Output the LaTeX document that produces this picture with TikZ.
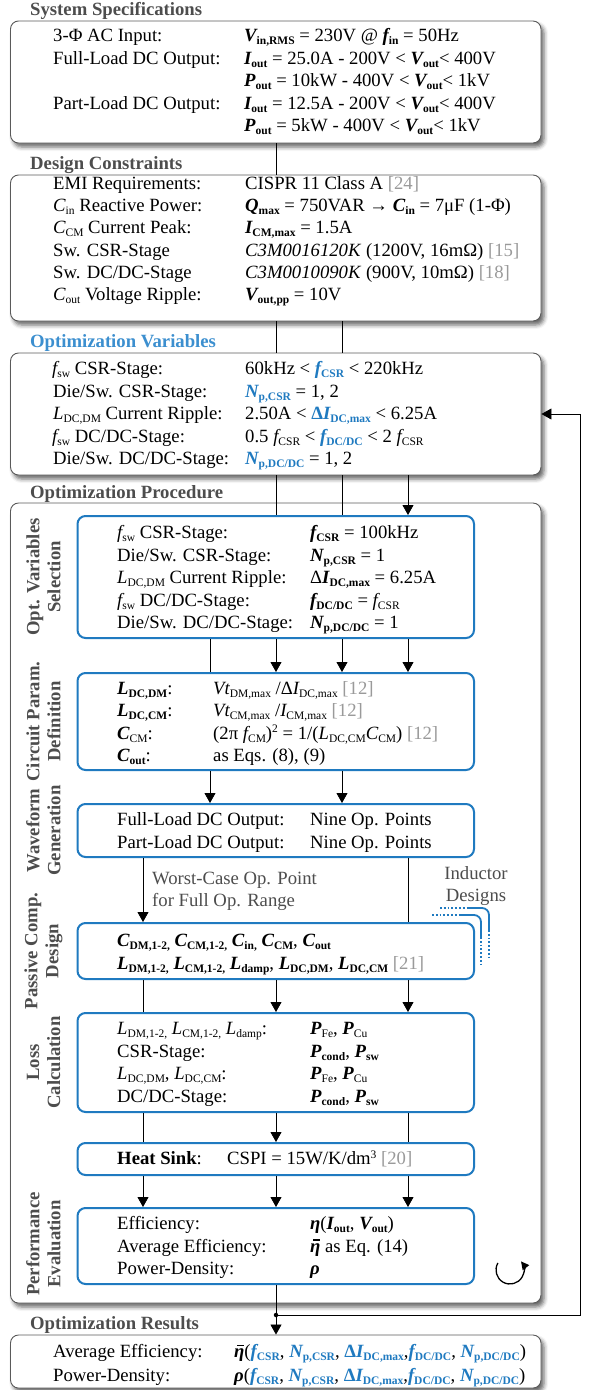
\documentclass[tikz,border=0pt]{standalone}
\usepackage{fontspec}
\setmainfont{Liberation Serif}
\usetikzlibrary{arrows.meta,shadows.blur}

\definecolor{bluebox}{HTML}{1F7AC0}
\definecolor{bluetxt}{HTML}{1F7AC0}
\definecolor{bluettl}{HTML}{3C8FCF}
\definecolor{titlegray}{HTML}{4D4D4D}
\definecolor{refgray}{HTML}{9A9A9A}
\definecolor{edgegray}{HTML}{5A5A5A}

\newcommand{\lo}[1]{\raisebox{-3pt}{\fontsize{11.5}{12}\selectfont #1}}
\newcommand{\hi}[1]{\raisebox{6.5pt}{\fontsize{11.5}{12}\selectfont #1}}
\newcommand{\bvar}[2]{{\bfseries\itshape #1}\lo{\bfseries\upshape #2}}
\newcommand{\bvarr}[2]{{\bfseries\itshape #1}\lo{\mdseries\upshape #2}}
\newcommand{\ivar}[2]{{\itshape #1}\lo{\upshape #2}}
\newcommand{\bl}[1]{\textcolor{bluetxt}{#1}}
\newcommand{\rf}[1]{\textcolor{refgray}{#1}}
\newcommand{\myeta}{{\bfseries\itshape η}}
\newcommand{\myetabar}{\makebox[0pt][l]{\hspace{0.17em}\rule[0.6em]{0.34em}{0.07em}}\myeta}
\newcommand{\myrho}{{\bfseries\itshape ρ}}

\tikzset{
  outer/.style={draw=edgegray, line width=0.9pt, rounded corners=8pt, fill=white,
    blur shadow={shadow xshift=3pt, shadow yshift=-4pt, shadow blur radius=4pt, shadow opacity=60},
    minimum width=530.5pt, inner sep=0pt},
  inner/.style={draw=bluebox, line width=2pt, rounded corners=8pt, fill=white,
    minimum width=396.5pt, inner sep=0pt},
  txt/.style={anchor=base west, inner sep=0pt, font=\fontsize{18.7}{22.5}\selectfont},
  ttl/.style={anchor=base west, inner sep=0pt, font=\fontsize{18.7}{22.5}\selectfont\bfseries, text=titlegray},
  vlab/.style={rotate=90, align=center, inner sep=0pt, font=\fontsize{18.7}{21}\selectfont\bfseries, text=titlegray},
  note/.style={inner sep=0pt, font=\fontsize{18.7}{22}\selectfont, text=titlegray},
  conn/.style={line width=0.8pt},
  arr/.style={line width=0.8pt, -{Triangle[length=10pt,width=11pt]}},
  dotln/.style={draw=bluebox, line width=1.8pt, dotted},
  solln/.style={draw=bluebox, line width=1.8pt, rounded corners=7pt},
}

\begin{document}
\begin{tikzpicture}[x=1pt,y=-1pt]
\useasboundingbox (0,0) rectangle (591,1390);

% ---------- outer boxes ----------
\node[outer, minimum height=122pt] (sys) at (275.75,82) {};
\node[outer, minimum height=146pt] (con) at (275.75,248) {};
\node[outer, minimum height=122pt] (var) at (275.75,414) {};
\node[outer, minimum height=800pt] (proc) at (275.75,903) {};
\node[outer, minimum height=53pt] (res) at (275.75,1361.5) {};

% ---------- titles ----------
\node[ttl] (t1) at (30,15.5) {System Specifications};
\node[ttl] (t2) at (30,169) {Design Constraints};
\node[ttl, text=bluettl] (t3) at (30,347) {Optimization Variables};
\node[ttl] (t4) at (30,498) {Optimization Procedure};
\node[ttl] (t5) at (30,1329) {Optimization Results};

% ---------- column coordinates ----------
\coordinate (k1) at (143,0);
\coordinate (k2) at (210,0);
\coordinate (k3) at (276,0);
\coordinate (k4) at (342,0);
\coordinate (k5) at (408,0);

% ---------- connectors between outer boxes ----------
\draw[conn] (sys.south -| k3) -- (con.north -| k3);
\draw[conn] (con.south -| k3) -- (var.north -| k3);
\draw[conn] (con.south -| k4) -- (var.north -| k4);

% ---------- inner boxes ----------
\node[inner, minimum height=122pt] (sel) at (275.75,577) {};
\node[inner, minimum height=97pt] (cpd) at (275.75,721.5) {};
\node[inner, minimum height=53pt] (wfg) at (275.75,830.5) {};
\node[inner, minimum height=56pt] (pcd) at (275.75,951) {};
\node[inner, minimum height=99pt] (loss) at (275.75,1062.5) {};
\node[inner, minimum height=32pt] (hs) at (275.75,1159) {};
\node[inner, minimum height=76pt] (perf) at (275.75,1246) {};

% ---------- connectors into / between inner boxes ----------
\draw[conn] (var.south -| k3) -- (sel.north -| k3);
\draw[conn] (var.south -| k4) -- (sel.north -| k4);
\draw[arr]  (var.south -| k5) -- (sel.north -| k5);

\draw[conn] (sel.south -| k2) -- (cpd.north -| k2);
\draw[arr]  (sel.south -| k3) -- (cpd.north -| k3);
\draw[arr]  (sel.south -| k4) -- (cpd.north -| k4);
\draw[arr]  (sel.south -| k5) -- (cpd.north -| k5);

\draw[arr]  (cpd.south -| k2) -- (wfg.north -| k2);
\draw[arr]  (cpd.south -| k4) -- (wfg.north -| k4);

\draw[arr]  (wfg.south -| k1) -- (pcd.north -| k1);
\draw[conn] (wfg.south -| k5) -- (pcd.north -| k5);

\draw[conn] (pcd.south -| k1) -- (loss.north -| k1);
\draw[arr]  (pcd.south -| k3) -- (loss.north -| k3);
\draw[arr]  (pcd.south -| k5) -- (loss.north -| k5);

\draw[conn] (loss.south -| k1) -- (hs.north -| k1);
\draw[arr]  (loss.south -| k3) -- (hs.north -| k3);
\draw[conn] (loss.south -| k5) -- (hs.north -| k5);

\draw[arr]  (hs.south -| k1) -- (perf.north -| k1);
\draw[arr]  (hs.south -| k3) -- (perf.north -| k3);
\draw[arr]  (hs.south -| k5) -- (perf.north -| k5);

\draw[arr]  (perf.south -| k3) -- (res.north -| k3);

% feedback loop
\node[circle, fill=black, inner sep=0pt, minimum size=4.5pt] (jn) at (276,1315) {};
\coordinate (fbr) at (580,1315);
\draw[arr] (jn.center) -- (fbr) |- (var.east);

% ---------- vertical stage labels ----------
\node[vlab] (vA) at (43.5,577) {Opt. Variables\\Selection};
\node[vlab] (vB) at (43.5,721.5) {Circuit Param.\\Definition};
\node[vlab] (vC) at (43.5,830.5) {Waveform\\Generation};
\node[vlab] (vD) at (43.5,951) {Passive Comp.\\Design};
\node[vlab] (vE) at (43.5,1062.5) {Loss\\Calculation};
\node[vlab] (vG) at (43.5,1244) {Performance\\Evaluation};

% ---------- notes ----------
\node[note, anchor=base west, align=left] (wc) at (152,906) {Worst-Case Op. Point\\for Full Op. Range};
\node[note, anchor=base, align=center] (ind) at (476,901) {Inductor\\Designs};

% inductor design bundle lines
\draw[dotln] (440,908) -- (467,908);
\draw[solln] (467,908) -- (489,908) -- (489,930);
\draw[dotln] (489,930) -- (489,957);
\draw[dotln] (432,915) -- (460,915);
\draw[solln] (460,915) -- (481,915) -- (481,937);
\draw[dotln] (481,937) -- (481,964);

% cycle symbol
\coordinate (cyc) at (510,1270);
\draw[line width=1.3pt, -{Triangle[length=8pt,width=8pt]}] (cyc) ++(210:14) arc[start angle=210, end angle=-38, radius=14];

% ---------- Box 1 text ----------
\node[txt] (s1l) at (53,41.5) {3-Φ AC Input:};
\node[txt] (s1v) at (244,41.5) {\bvar{V}{in,RMS} = 230V @ \bvar{f}{in} = 50Hz};
\node[txt] (s2l) at (53,64) {Full-Load DC Output:};
\node[txt] (s2v) at (244,64) {\bvar{I}{out} = 25.0A - 200V < \bvar{V}{out}< 400V};
\node[txt] (s3v) at (244,86.5) {\bvar{P}{out} = 10kW - 400V < \bvar{V}{out}< 1kV};
\node[txt] (s4l) at (53,109) {Part-Load DC Output:};
\node[txt] (s4v) at (244,109) {\bvar{I}{out} = 12.5A - 200V < \bvar{V}{out}< 400V};
\node[txt] (s5v) at (244,131.5) {\bvar{P}{out} = 5kW - 400V < \bvar{V}{out}< 1kV};

% ---------- Box 2 text ----------
\node[txt] (c1l) at (53,189.5) {EMI Requirements:};
\node[txt] (c1v) at (245,189.5) {CISPR 11 Class A \rf{[24]}};
\node[txt] (c2l) at (53,211.7) {\ivar{C}{in} Reactive Power:};
\node[txt] (c2v) at (245,211.7) {\bvar{Q}{max} = 750VAR → \bvar{C}{in} = 7μF (1-Φ)};
\node[txt] (c3l) at (53,233.9) {\ivar{C}{CM} Current Peak:};
\node[txt] (c3v) at (245,233.9) {\bvar{I}{CM,max} = 1.5A};
\node[txt] (c4l) at (53,256.1) {Sw. CSR-Stage};
\node[txt] (c4v) at (245,256.1) {\textit{C3M0016120K} (1200V, 16mΩ) \rf{[15]}};
\node[txt] (c5l) at (53,278.3) {Sw. DC/DC-Stage};
\node[txt] (c5v) at (245,278.3) {\textit{C3M0010090K} (900V, 10mΩ) \rf{[18]}};
\node[txt] (c6l) at (53,300.5) {\ivar{C}{out} Voltage Ripple:};
\node[txt] (c6v) at (245,300.5) {\bvar{V}{out,pp} = 10V};

% ---------- Box 3 text ----------
\node[txt] (v1l) at (52,374.5) {\ivar{f}{sw} CSR-Stage:};
\node[txt] (v1v) at (245,374.5) {60kHz < \bl{\bvar{f}{CSR}} < 220kHz};
\node[txt] (v2l) at (53,397) {Die/Sw. CSR-Stage:};
\node[txt] (v2v) at (245,397) {\bl{\bvar{N}{p,CSR}} = 1, 2};
\node[txt] (v3l) at (53,419.5) {\ivar{L}{DC,DM} Current Ripple:};
\node[txt] (v3v) at (245,419.5) {2.50A < \bl{{\bfseries Δ}\bvar{I}{DC,max}} < 6.25A};
\node[txt] (v4l) at (52,442) {\ivar{f}{sw} DC/DC-Stage:};
\node[txt] (v4v) at (245,442) {0.5 \ivar{f}{CSR} < \bl{\bvar{f}{DC/DC}} < 2 \ivar{f}{CSR}};
\node[txt] (v5l) at (53,464.5) {Die/Sw. DC/DC-Stage:};
\node[txt] (v5v) at (245,464.5) {\bl{\bvar{N}{p,DC/DC}} = 1, 2};

% ---------- Box A text ----------
\node[txt] (a1l) at (117,538.5) {\ivar{f}{sw} CSR-Stage:};
\node[txt] (a1v) at (310,538.5) {\bvar{f}{CSR} = 100kHz};
\node[txt] (a2l) at (117,561) {Die/Sw. CSR-Stage:};
\node[txt] (a2v) at (310,561) {\bvar{N}{p,CSR} = 1};
\node[txt] (a3l) at (117,583.5) {\ivar{L}{DC,DM} Current Ripple:};
\node[txt] (a3v) at (310,583.5) {Δ\bvar{I}{DC,max} = 6.25A};
\node[txt] (a4l) at (117,606) {\ivar{f}{sw} DC/DC-Stage:};
\node[txt] (a4v) at (310,606) {\bvar{f}{DC/DC} = \ivar{f}{CSR}};
\node[txt] (a5l) at (117,628.5) {Die/Sw. DC/DC-Stage:};
\node[txt] (a5v) at (310,628.5) {\bvar{N}{p,DC/DC} = 1};

% ---------- Box B text ----------
\node[txt] (b1l) at (117,694) {\bvar{L}{DC,DM}:};
\node[txt] (b1v) at (213,694) {{\itshape V}\ivar{t}{DM,max} /Δ\ivar{I}{DC,max} \rf{[12]}};
\node[txt] (b2l) at (117,716.5) {\bvar{L}{DC,CM}:};
\node[txt] (b2v) at (213,716.5) {{\itshape V}\ivar{t}{CM,max} /\ivar{I}{CM,max} \rf{[12]}};
\node[txt] (b3l) at (117,739) {\bvarr{C}{CM}:};
\node[txt] (b3v) at (213,739) {(2π \ivar{f}{CM})\hi{2} = 1/(\ivar{L}{DC,CM}\ivar{C}{CM}) \rf{[12]}};
\node[txt] (b4l) at (117,761) {\bvar{C}{out}:};
\node[txt] (b4v) at (213,761) {as Eqs. (8), (9)};

% ---------- Box C text ----------
\node[txt] (w1l) at (117,825.5) {Full-Load DC Output:};
\node[txt] (w1v) at (310,825.5) {Nine Op. Points};
\node[txt] (w2l) at (117,848) {Part-Load DC Output:};
\node[txt] (w2v) at (310,848) {Nine Op. Points};

% ---------- Box D text ----------
\node[txt] (d1) at (117,946.5) {\bvar{C}{DM,1-2,} \bvar{C}{CM,1-2,} \bvar{C}{in,} \bvar{C}{CM}, \bvar{C}{out}};
\node[txt] (d2) at (117,969.5) {\bvar{L}{DM,1-2,} \bvar{L}{CM,1-2,} \bvar{L}{damp}, \bvar{L}{DC,DM}, \bvar{L}{DC,CM} \rf{[21]}};

% ---------- Box E text ----------
\node[txt] (e1l) at (117,1034.5) {\ivar{L}{DM,1-2,} \ivar{L}{CM,1-2,} \ivar{L}{damp}:};
\node[txt] (e1v) at (310,1034.5) {\bvarr{P}{Fe}, \bvarr{P}{Cu}};
\node[txt] (e2l) at (117,1057) {CSR-Stage:};
\node[txt] (e2v) at (310,1057) {\bvar{P}{cond}, \bvar{P}{sw}};
\node[txt] (e3l) at (117,1079.5) {\ivar{L}{DC,DM}, \ivar{L}{DC,CM}:};
\node[txt] (e3v) at (310,1079.5) {\bvarr{P}{Fe}, \bvarr{P}{Cu}};
\node[txt] (e4l) at (117,1102) {DC/DC-Stage:};
\node[txt] (e4v) at (310,1102) {\bvar{P}{cond}, \bvar{P}{sw}};

% ---------- Box F text ----------
\node[txt] (h1l) at (117,1164.5) {\textbf{Heat Sink}:};
\node[txt] (h1v) at (227,1164.5) {CSPI = 15W/K/dm\hi{3} \rf{[20]}};

% ---------- Box G text ----------
\node[txt] (g1l) at (117,1229.5) {Efficiency:};
\node[txt] (g1v) at (310,1229.5) {\myeta(\bvar{I}{out}, \bvar{V}{out})};
\node[txt] (g2l) at (117,1252) {Average Efficiency:};
\node[txt] (g2v) at (310,1252) {\myetabar{} as Eq. (14)};
\node[txt] (g3l) at (117,1274.5) {Power-Density:};
\node[txt] (g3v) at (310,1274.5) {\myrho};

% ---------- Box 5 text ----------
\node[txt] (r1l) at (53,1357.5) {Average Efficiency:};
\node[txt] (r1v) at (234,1357.5) {\myetabar(\bl{\bvar{f}{CSR}}, \bl{\bvar{N}{p,CSR}}, \bl{{\bfseries Δ}\bvar{I}{DC,max}},\bl{\bvar{f}{DC/DC}}, \bl{\bvar{N}{p,DC/DC}})};
\node[txt] (r2l) at (53,1381) {Power-Density:};
\node[txt] (r2v) at (234,1381) {\myrho(\bl{\bvar{f}{CSR}}, \bl{\bvar{N}{p,CSR}}, \bl{{\bfseries Δ}\bvar{I}{DC,max}},\bl{\bvar{f}{DC/DC}}, \bl{\bvar{N}{p,DC/DC}})};
\end{tikzpicture}
\end{document}
